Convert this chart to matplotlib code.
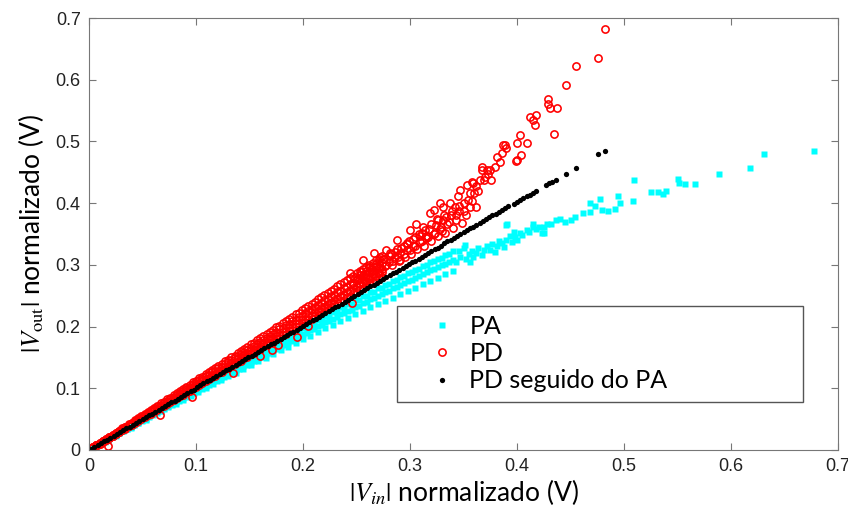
import matplotlib
matplotlib.use('Agg')
import matplotlib.pyplot as plt
from matplotlib.patches import Rectangle

plt.rcParams['mathtext.fontset'] = 'stix'

# ---- PA (cyan squares): dense band rows ----
pa_band_x = [0.004, 0.011, 0.018, 0.025, 0.032, 0.039, 0.046, 0.053, 0.060, 0.067,
             0.074, 0.081, 0.088, 0.095, 0.102, 0.109, 0.116, 0.123, 0.130, 0.137,
             0.144, 0.151, 0.158, 0.165, 0.172, 0.179, 0.186, 0.193, 0.200, 0.207,
             0.214, 0.221, 0.228, 0.235, 0.242, 0.249, 0.256, 0.263, 0.270, 0.277,
             0.284, 0.291, 0.298, 0.305, 0.312, 0.319, 0.326, 0.333, 0.340]
pa_band_y1 = [0.004, 0.011, 0.018, 0.025, 0.032, 0.038, 0.045, 0.052, 0.059, 0.066,
              0.073, 0.080, 0.087, 0.094, 0.100, 0.107, 0.114, 0.121, 0.128, 0.135,
              0.142, 0.149, 0.156, 0.162, 0.169, 0.176, 0.183, 0.190, 0.197, 0.204,
              0.210, 0.217, 0.224, 0.231, 0.237, 0.244, 0.250, 0.256, 0.262, 0.268,
              0.274, 0.280, 0.286, 0.292, 0.298, 0.304, 0.310, 0.316, 0.322]
pa_band_y2 = [0.004, 0.0105, 0.017, 0.024, 0.031, 0.037, 0.044, 0.051, 0.058, 0.064,
              0.071, 0.078, 0.084, 0.091, 0.098, 0.104, 0.111, 0.117, 0.1235, 0.130,
              0.1365, 0.143, 0.149, 0.156, 0.162, 0.169, 0.175, 0.181, 0.188, 0.194,
              0.201, 0.207, 0.213, 0.220, 0.226, 0.232, 0.238, 0.244, 0.250, 0.256,
              0.262, 0.268, 0.2735, 0.279, 0.285, 0.291, 0.297, 0.302, 0.308]
pa_band_y3 = [0.0037, 0.0103, 0.0168, 0.0234, 0.030, 0.0364, 0.043, 0.0494, 0.056, 0.0624,
              0.069, 0.0753, 0.0817, 0.088, 0.0943, 0.1005, 0.1067, 0.113, 0.1191, 0.1252,
              0.1313, 0.1374, 0.1435, 0.1495, 0.1555, 0.1615, 0.1674, 0.1733, 0.1792, 0.185,
              0.191, 0.197, 0.203, 0.209, 0.2145, 0.2201, 0.2255, 0.231, 0.2363, 0.2416,
              0.2468, 0.252, 0.2575, 0.263, 0.2684, 0.2738, 0.2791, 0.2844, 0.2897]
pa_band2_x = [0.0075, 0.0145, 0.0215, 0.0285, 0.0355, 0.0425, 0.0495, 0.0565, 0.0635, 0.0705,
              0.0775, 0.0845, 0.0915, 0.0985, 0.1055, 0.1125, 0.1195, 0.1265, 0.1335, 0.1405,
              0.1475, 0.1545, 0.1615, 0.1685, 0.1755, 0.1825, 0.1895, 0.1965, 0.2035, 0.2105,
              0.2175, 0.2245, 0.2315, 0.2385, 0.2455, 0.2525, 0.2595, 0.2665, 0.2735, 0.2805,
              0.2875, 0.2945, 0.3015, 0.3085, 0.3155, 0.3225, 0.3295, 0.3365]
pa_band2_y1 = [0.0073, 0.0141, 0.0209, 0.0276, 0.0344, 0.0412, 0.048, 0.0548, 0.0616, 0.0684,
               0.0752, 0.082, 0.0888, 0.0955, 0.1023, 0.1091, 0.1159, 0.1227, 0.1295, 0.1363,
               0.1431, 0.1499, 0.1567, 0.1634, 0.1702, 0.177, 0.1838, 0.1906, 0.1972, 0.2039,
               0.2106, 0.2173, 0.224, 0.2306, 0.2372, 0.2437, 0.2502, 0.2566, 0.263, 0.2693,
               0.2755, 0.2818, 0.2879, 0.2939, 0.2999, 0.3058, 0.3117, 0.3176]
pa_band2_y2 = [0.0071, 0.0137, 0.0204, 0.027, 0.0336, 0.0402, 0.0468, 0.0534, 0.060, 0.0666,
               0.0731, 0.0797, 0.0862, 0.0928, 0.0993, 0.1058, 0.1123, 0.1188, 0.1253, 0.1318,
               0.1383, 0.1448, 0.1512, 0.1577, 0.1641, 0.1705, 0.1769, 0.1833, 0.1897, 0.1961,
               0.2024, 0.2087, 0.2151, 0.2214, 0.2276, 0.2338, 0.240, 0.2461, 0.2522, 0.2583,
               0.2643, 0.2703, 0.2762, 0.2821, 0.288, 0.2938, 0.2996, 0.3054]
pa_sparse_x = [0.678, 0.631, 0.618, 0.589, 0.566, 0.557, 0.550, 0.551, 0.539, 0.536,
               0.532, 0.525, 0.509, 0.508, 0.496, 0.494, 0.492, 0.485, 0.479, 0.478,
               0.468, 0.473, 0.468, 0.462, 0.454, 0.450, 0.440, 0.436, 0.428, 0.421,
               0.423, 0.415, 0.409, 0.403, 0.400, 0.393, 0.390, 0.386, 0.381, 0.375,
               0.369, 0.362, 0.359, 0.379, 0.397, 0.391, 0.351, 0.390, 0.415, 0.425,
               0.343, 0.347, 0.352, 0.355, 0.358, 0.364, 0.367, 0.372, 0.377, 0.383,
               0.388, 0.395, 0.398, 0.405, 0.411, 0.418, 0.425, 0.432, 0.445, 0.346,
               0.350, 0.356]
pa_sparse_y = [0.485, 0.479, 0.457, 0.447, 0.431, 0.431, 0.439, 0.433, 0.420, 0.415,
               0.418, 0.418, 0.437, 0.404, 0.400, 0.411, 0.391, 0.388, 0.389, 0.407,
               0.401, 0.395, 0.385, 0.384, 0.377, 0.373, 0.375, 0.373, 0.367, 0.362,
               0.351, 0.361, 0.357, 0.351, 0.340, 0.346, 0.340, 0.335, 0.330, 0.324,
               0.324, 0.319, 0.313, 0.321, 0.354, 0.366, 0.332, 0.365, 0.367, 0.351,
               0.305, 0.312, 0.309, 0.318, 0.322, 0.327, 0.316, 0.330, 0.334, 0.338,
               0.329, 0.337, 0.345, 0.348, 0.353, 0.358, 0.361, 0.366, 0.369, 0.322,
               0.328, 0.305]

# ---- PD (red open circles): dense band rows ----
pd_band_x = [0.004, 0.010, 0.016, 0.022, 0.028, 0.034, 0.040, 0.046, 0.052, 0.058,
             0.064, 0.070, 0.076, 0.082, 0.088, 0.094, 0.100, 0.106, 0.112, 0.118,
             0.124, 0.130, 0.136, 0.142, 0.148, 0.154, 0.160, 0.166, 0.172, 0.178,
             0.184, 0.190, 0.196, 0.202, 0.208, 0.214, 0.220, 0.226, 0.232, 0.238,
             0.244, 0.250, 0.256, 0.262, 0.268, 0.274]
pd_band_y1 = [0.0045, 0.0111, 0.0178, 0.0245, 0.0311, 0.0378, 0.0445, 0.0512, 0.0579, 0.0646,
              0.0713, 0.0781, 0.0848, 0.0916, 0.0984, 0.1052, 0.112, 0.1188, 0.1256, 0.1324,
              0.1393, 0.1462, 0.1531, 0.160, 0.1669, 0.1738, 0.1808, 0.1877, 0.1947, 0.2017,
              0.2087, 0.2157, 0.2227, 0.2298, 0.2369, 0.244, 0.251, 0.2581, 0.2652, 0.2723,
              0.2794, 0.2865, 0.2936, 0.3005, 0.3075, 0.314]
pd_band_y2 = [0.0043, 0.0108, 0.0173, 0.0238, 0.0303, 0.0368, 0.0433, 0.0498, 0.0563, 0.0628,
              0.0694, 0.0759, 0.0825, 0.089, 0.0956, 0.1022, 0.1088, 0.1154, 0.122, 0.1286,
              0.1352, 0.1418, 0.1485, 0.1551, 0.1618, 0.1685, 0.1752, 0.1819, 0.1886, 0.1953,
              0.202, 0.2087, 0.2155, 0.2222, 0.229, 0.2357, 0.2425, 0.2493, 0.2561, 0.2629,
              0.2697, 0.2765, 0.2833, 0.290, 0.2968, 0.3036]
pd_band_y3 = [0.0042, 0.0105, 0.0167, 0.023, 0.0293, 0.0356, 0.0418, 0.0481, 0.0544, 0.0607,
              0.067, 0.0733, 0.0796, 0.0859, 0.0922, 0.0985, 0.1048, 0.1111, 0.1174, 0.1237,
              0.130, 0.1363, 0.1426, 0.149, 0.1553, 0.1616, 0.168, 0.1743, 0.1807, 0.187,
              0.1934, 0.1997, 0.2061, 0.2124, 0.2188, 0.2252, 0.2316, 0.2379, 0.2443, 0.2507,
              0.2571, 0.2635, 0.2699, 0.2763, 0.2827, 0.2891]
pd_band_y4 = [0.0041, 0.0102, 0.0163, 0.0224, 0.0285, 0.0346, 0.0407, 0.0468, 0.0529, 0.0591,
              0.0652, 0.0713, 0.0775, 0.0836, 0.0897, 0.0959, 0.102, 0.1081, 0.1143, 0.1204,
              0.1266, 0.1327, 0.1389, 0.145, 0.1512, 0.1573, 0.1635, 0.1697, 0.1758, 0.182,
              0.1882, 0.1943, 0.2005, 0.2067, 0.2129, 0.219, 0.2252, 0.2314, 0.2376, 0.2438,
              0.250, 0.2562, 0.2624, 0.2686, 0.2748, 0.281]
pd_band2_x = [0.007, 0.013, 0.019, 0.025, 0.031, 0.037, 0.043, 0.049, 0.055, 0.061,
              0.067, 0.073, 0.079, 0.085, 0.091, 0.097, 0.103, 0.109, 0.115, 0.121,
              0.127, 0.133, 0.139, 0.145, 0.151, 0.157, 0.163, 0.169, 0.175, 0.181,
              0.187, 0.193, 0.199, 0.205, 0.211, 0.217, 0.223, 0.229, 0.235, 0.241,
              0.247, 0.253, 0.259, 0.265, 0.271]
pd_band2_y1 = [0.0079, 0.0146, 0.0214, 0.0281, 0.0349, 0.0416, 0.0484, 0.0552, 0.0619, 0.0687,
               0.0755, 0.0823, 0.0891, 0.0959, 0.1027, 0.1095, 0.1164, 0.1232, 0.130, 0.1369,
               0.1437, 0.1506, 0.1575, 0.1643, 0.1712, 0.1781, 0.185, 0.1919, 0.1988, 0.2057,
               0.2126, 0.2196, 0.2265, 0.2335, 0.2404, 0.2474, 0.2544, 0.2614, 0.2684, 0.2754,
               0.2824, 0.2894, 0.2962, 0.303, 0.310]
pd_band2_y2 = [0.0077, 0.0142, 0.0208, 0.0274, 0.0339, 0.0405, 0.0471, 0.0537, 0.0602, 0.0668,
               0.0734, 0.0799, 0.0865, 0.0931, 0.0997, 0.1062, 0.1128, 0.1194, 0.1259, 0.1325,
               0.1391, 0.1456, 0.1522, 0.1588, 0.1653, 0.1719, 0.1785, 0.1851, 0.1916, 0.1982,
               0.2048, 0.2113, 0.2179, 0.2245, 0.231, 0.2376, 0.2442, 0.2508, 0.2573, 0.2639,
               0.2705, 0.277, 0.2836, 0.2902, 0.2967]
pd_band2_y3 = [0.0074, 0.0138, 0.0201, 0.0265, 0.0329, 0.0392, 0.0456, 0.0519, 0.0583, 0.0647,
               0.071, 0.0774, 0.0837, 0.0901, 0.0965, 0.1028, 0.1092, 0.1155, 0.1219, 0.1283,
               0.1346, 0.141, 0.1473, 0.1537, 0.1601, 0.1664, 0.1728, 0.1791, 0.1855, 0.1919,
               0.1982, 0.2046, 0.2109, 0.2173, 0.2237, 0.230, 0.2364, 0.2427, 0.2491, 0.2555,
               0.2618, 0.2682, 0.2745, 0.2809, 0.2873]
pd_band2_y4 = [0.0072, 0.0134, 0.0196, 0.0258, 0.0319, 0.0381, 0.0443, 0.0505, 0.0567, 0.0628,
               0.069, 0.0752, 0.0814, 0.0876, 0.0937, 0.0999, 0.1061, 0.1123, 0.1185, 0.1246,
               0.1308, 0.137, 0.1432, 0.1494, 0.1555, 0.1617, 0.1679, 0.1741, 0.1803, 0.1864,
               0.1926, 0.1988, 0.205, 0.2112, 0.2173, 0.2235, 0.2297, 0.2359, 0.2421, 0.2482,
               0.2544, 0.2606, 0.2668, 0.273, 0.2791]
pd_cloud_x = [0.247, 0.249, 0.252, 0.253, 0.257, 0.259, 0.261, 0.264, 0.265, 0.268,
              0.270, 0.271, 0.274, 0.276, 0.277, 0.280, 0.282, 0.283, 0.286, 0.288,
              0.290, 0.291, 0.294, 0.295, 0.297, 0.299, 0.301, 0.303, 0.305, 0.307,
              0.309, 0.311, 0.313, 0.315, 0.318, 0.320, 0.322, 0.324, 0.326, 0.328,
              0.331, 0.333, 0.335, 0.338, 0.340, 0.343, 0.346, 0.349, 0.352, 0.356]
pd_cloud_y = [0.268, 0.279, 0.271, 0.284, 0.276, 0.290, 0.281, 0.294, 0.285, 0.297,
              0.288, 0.305, 0.293, 0.310, 0.298, 0.304, 0.318, 0.300, 0.313, 0.326,
              0.307, 0.319, 0.331, 0.313, 0.324, 0.338, 0.318, 0.330, 0.345, 0.325,
              0.337, 0.352, 0.331, 0.343, 0.358, 0.338, 0.350, 0.364, 0.346, 0.358,
              0.372, 0.352, 0.366, 0.381, 0.360, 0.373, 0.387, 0.368, 0.380, 0.393]
pd_sparse_x = [0.250, 0.254, 0.258, 0.262, 0.266, 0.268, 0.272, 0.275, 0.278, 0.281,
               0.284, 0.286, 0.289, 0.292, 0.294, 0.297, 0.300, 0.303, 0.305, 0.308,
               0.311, 0.314, 0.317, 0.320, 0.323, 0.326, 0.329, 0.332, 0.336, 0.339,
               0.343, 0.346, 0.350, 0.354,
               0.256, 0.272, 0.278, 0.288, 0.291, 0.300, 0.306, 0.312, 0.315, 0.319,
               0.322, 0.325, 0.330, 0.331, 0.334, 0.337, 0.342, 0.345, 0.350, 0.356,
               0.359, 0.362, 0.365, 0.370, 0.367, 0.372, 0.353, 0.347, 0.328, 0.309,
               0.297, 0.281, 0.263, 0.244, 0.266,
               0.400, 0.409, 0.404, 0.400, 0.387, 0.390, 0.386, 0.381, 0.384, 0.379,
               0.375, 0.367, 0.369, 0.376, 0.362, 0.358, 0.360, 0.358, 0.364, 0.373,
               0.482, 0.476, 0.455, 0.446, 0.429, 0.429, 0.431, 0.437, 0.435, 0.412,
               0.418, 0.415, 0.417, 0.403, 0.399, 0.389,
               0.194, 0.177, 0.171, 0.160, 0.2455, 0.205, 0.135, 0.096, 0.066, 0.018]
pd_sparse_y = [0.275, 0.288, 0.281, 0.296, 0.289, 0.302, 0.295, 0.309, 0.300, 0.314,
               0.306, 0.321, 0.312, 0.328, 0.318, 0.333, 0.324, 0.342, 0.330, 0.350,
               0.339, 0.356, 0.345, 0.366, 0.352, 0.372, 0.362, 0.380, 0.370, 0.388,
               0.380, 0.395, 0.388, 0.405,
               0.308, 0.313, 0.324, 0.340, 0.308, 0.357, 0.367, 0.362, 0.346, 0.384,
               0.389, 0.375, 0.355, 0.394, 0.378, 0.400, 0.394, 0.411, 0.400, 0.416,
               0.432, 0.394, 0.438, 0.443, 0.459, 0.454, 0.429, 0.421, 0.400, 0.346,
               0.335, 0.319, 0.297, 0.286, 0.319,
               0.497, 0.497, 0.478, 0.470, 0.494, 0.489, 0.481, 0.475, 0.467, 0.459,
               0.454, 0.454, 0.438, 0.438, 0.427, 0.435, 0.416, 0.403, 0.419, 0.448,
               0.682, 0.635, 0.622, 0.592, 0.568, 0.560, 0.554, 0.554, 0.512, 0.539,
               0.543, 0.535, 0.527, 0.511, 0.469, 0.494,
               0.183, 0.170, 0.162, 0.152, 0.239, 0.201, 0.124, 0.086, 0.057, 0.006]

# ---- PD seguido do PA (black dots) ----
pdpa_x = [0.002, 0.005, 0.008, 0.011, 0.014, 0.017, 0.020, 0.023, 0.026, 0.029,
          0.032, 0.035, 0.038, 0.041, 0.044, 0.047, 0.050, 0.053, 0.056, 0.059,
          0.062, 0.065, 0.068, 0.071, 0.074, 0.077, 0.080, 0.083, 0.086, 0.089,
          0.092, 0.095, 0.098, 0.101, 0.104, 0.107, 0.110, 0.113, 0.116, 0.119,
          0.122, 0.125, 0.128, 0.131, 0.134, 0.137, 0.140, 0.143, 0.146, 0.149,
          0.152, 0.155, 0.158, 0.161, 0.164, 0.167, 0.170, 0.173, 0.176, 0.179,
          0.182, 0.185, 0.188, 0.191, 0.194, 0.197, 0.200, 0.203, 0.206, 0.209,
          0.212, 0.215, 0.218, 0.221, 0.224, 0.227, 0.230, 0.233, 0.236, 0.239,
          0.242, 0.245, 0.248, 0.251, 0.254, 0.257, 0.260, 0.263, 0.266, 0.269,
          0.272, 0.275, 0.278, 0.281, 0.284, 0.287, 0.290, 0.293, 0.296, 0.299,
          0.302, 0.305, 0.308, 0.311, 0.314, 0.317, 0.320, 0.323, 0.326, 0.329,
          0.332, 0.335, 0.338, 0.341, 0.344, 0.347, 0.350, 0.353, 0.356, 0.359,
          0.362, 0.365, 0.368, 0.371, 0.374, 0.377, 0.380, 0.383, 0.386, 0.389,
          0.392,
          0.397, 0.400, 0.403, 0.406, 0.409, 0.412, 0.415, 0.418, 0.427, 0.430,
          0.433, 0.436, 0.446, 0.455, 0.476, 0.482]
pdpa_y = [0.002, 0.005, 0.008, 0.011, 0.014, 0.017, 0.020, 0.023, 0.026, 0.029,
          0.032, 0.035, 0.038, 0.041, 0.044, 0.047, 0.050, 0.053, 0.056, 0.059,
          0.062, 0.065, 0.068, 0.071, 0.074, 0.077, 0.080, 0.083, 0.086, 0.089,
          0.092, 0.095, 0.098, 0.102, 0.105, 0.108, 0.111, 0.114, 0.117, 0.120,
          0.123, 0.126, 0.129, 0.132, 0.135, 0.138, 0.141, 0.144, 0.147, 0.150,
          0.153, 0.156, 0.159, 0.162, 0.165, 0.168, 0.171, 0.174, 0.177, 0.180,
          0.183, 0.186, 0.189, 0.192, 0.195, 0.198, 0.201, 0.204, 0.207, 0.210,
          0.213, 0.216, 0.219, 0.222, 0.225, 0.228, 0.231, 0.234, 0.237, 0.240,
          0.243, 0.246, 0.249, 0.253, 0.256, 0.259, 0.262, 0.265, 0.268, 0.271,
          0.274, 0.277, 0.280, 0.283, 0.286, 0.289, 0.292, 0.295, 0.298, 0.301,
          0.304, 0.307, 0.310, 0.313, 0.316, 0.319, 0.322, 0.325, 0.328, 0.331,
          0.335, 0.338, 0.341, 0.344, 0.347, 0.350, 0.353, 0.356, 0.359, 0.362,
          0.365, 0.368, 0.371, 0.374, 0.377, 0.380, 0.383, 0.386, 0.389, 0.392,
          0.395,
          0.399, 0.402, 0.405, 0.408, 0.411, 0.414, 0.417, 0.420, 0.429, 0.432,
          0.435, 0.438, 0.448, 0.457, 0.479, 0.485]

ticks = [0, 0.1, 0.2, 0.3, 0.4, 0.5, 0.6, 0.7]
tick_labels = ['0', '0.1', '0.2', '0.3', '0.4', '0.5', '0.6', '0.7']

pa_x = pa_band_x * 3 + pa_band2_x * 2 + pa_sparse_x
pa_y = pa_band_y1 + pa_band_y2 + pa_band_y3 + pa_band2_y1 + pa_band2_y2 + pa_sparse_y
pd_x = pd_band_x * 4 + pd_band2_x * 4 + pd_cloud_x + pd_sparse_x
pd_y = (pd_band_y1 + pd_band_y2 + pd_band_y3 + pd_band_y4
        + pd_band2_y1 + pd_band2_y2 + pd_band2_y3 + pd_band2_y4 + pd_cloud_y + pd_sparse_y)

fig = plt.figure(figsize=(8.48, 5.16), dpi=100)
ax = fig.add_axes([89 / 848, 66 / 516, 749 / 848, 432 / 516])

ax.plot(pa_x, pa_y, 's', color='#00ffff', ms=4.3, mec='none', label='PA')
ax.plot(pd_x, pd_y, 'o', mfc='none', mec='#ff0000', ms=5.2, mew=1.15, label='PD')
ax.plot(pdpa_x, pdpa_y, 'o', color='black', ms=3.8, mec='none', label='PD seguido do PA')

ax.set_xlim(0, 0.7)
ax.set_ylim(0, 0.7)
ax.set_xticks(ticks)
ax.set_xticklabels(tick_labels)
ax.set_yticks(ticks)
ax.set_yticklabels(tick_labels)
ax.tick_params(direction='in', top=True, right=True, length=5, color='#777777',
               labelsize=13, labelcolor='#222222', pad=6)
for tl in ax.get_xticklabels() + ax.get_yticklabels():
    tl.set_family('Liberation Sans')
for s in ax.spines.values():
    s.set_color('#777777')

ax.set_xlabel(r'$|V_{in}|$ normalizado (V)', fontsize=19, family='Lato', labelpad=1)
ax.set_ylabel(r'$|V_{\mathrm{out}}|$ normalizado (V)', fontsize=19, family='Lato', labelpad=7)

# legend box (opaque, square corners)
box = Rectangle((0.411, 0.111), 0.542, 0.222, transform=ax.transAxes,
                facecolor='white', edgecolor='#555555', lw=1.0, zorder=4)
ax.add_patch(box)
leg = ax.legend(loc='center left', bbox_to_anchor=(0.455, 0.223), frameon=False,
                borderpad=0, borderaxespad=0, handlelength=1.0, handletextpad=0.58,
                labelspacing=0.17, prop={'family': 'Lato', 'size': 18})
leg.set_zorder(5)

plt.savefig('out.png', dpi=100)
